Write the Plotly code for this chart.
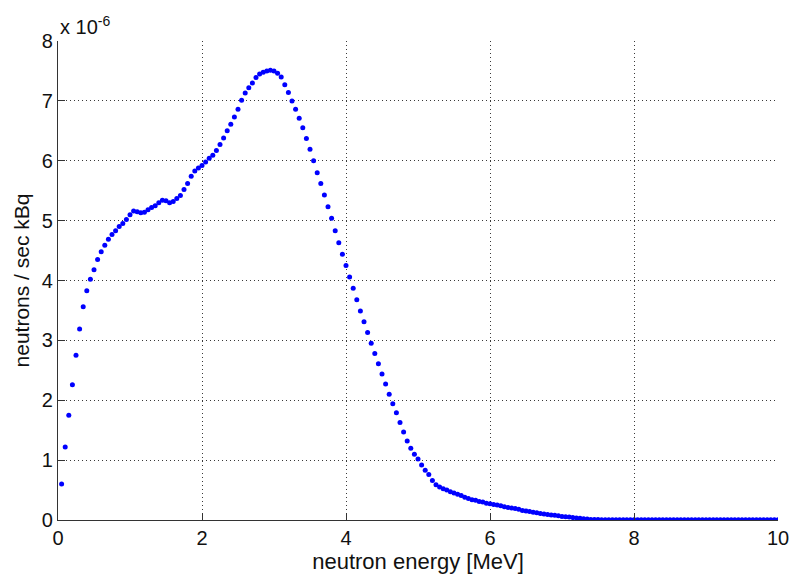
import numpy as np
import plotly.graph_objects as go

# neutron energy grid [MeV] (0.05 MeV bins, 200 points)
energy = np.round(np.arange(1, 201) * 0.05, 2)

# neutrons / sec kBq, in units of 1e-6
rate = [
    0.60, 1.22, 1.75, 2.26, 2.75, 3.19, 3.56, 3.83, 4.02, 4.18,   # 0.05-0.50
    4.35, 4.48, 4.59, 4.69, 4.77, 4.83, 4.90, 4.95, 5.02, 5.10,   # 0.55-1.00
    5.16, 5.15, 5.13, 5.14, 5.18, 5.22, 5.25, 5.30, 5.34, 5.33,   # 1.05-1.50
    5.30, 5.32, 5.37, 5.42, 5.52, 5.62, 5.74, 5.83, 5.88, 5.92,   # 1.55-2.00
    5.98, 6.04, 6.09, 6.17, 6.27, 6.38, 6.50, 6.61, 6.73, 6.86,   # 2.05-2.50
    7.01, 7.13, 7.22, 7.30, 7.39, 7.45, 7.48, 7.50, 7.51, 7.50,   # 2.55-3.00
    7.46, 7.40, 7.27, 7.14, 7.00, 6.86, 6.71, 6.55, 6.37, 6.19,   # 3.05-3.50
    6.00, 5.80, 5.62, 5.43, 5.23, 5.04, 4.83, 4.63, 4.44, 4.25,   # 3.55-4.00
    4.06, 3.87, 3.68, 3.49, 3.31, 3.13, 2.95, 2.78, 2.61, 2.44,   # 4.05-4.50
    2.27, 2.10, 1.94, 1.79, 1.63, 1.47, 1.32, 1.20, 1.10, 1.02,   # 4.55-5.00
    0.92, 0.83, 0.76, 0.66, 0.59, 0.55, 0.52, 0.50, 0.47, 0.45,   # 5.05-5.50
    0.43, 0.41, 0.38, 0.36, 0.34, 0.33, 0.31, 0.30, 0.28, 0.27,   # 5.55-6.00
    0.26, 0.25, 0.24, 0.22, 0.21, 0.20, 0.19, 0.18, 0.16, 0.15,   # 6.05-6.50
    0.14, 0.13, 0.12, 0.11, 0.10, 0.09, 0.085, 0.08, 0.07, 0.06,  # 6.55-7.00
    0.055, 0.05, 0.04, 0.035, 0.03, 0.02, 0.015, 0.01, 0.008, 0.007,  # 7.05-7.50
    0.006, 0.006, 0.005, 0.005, 0.005, 0.004, 0.004, 0.004, 0.004, 0.004,
    0.003, 0.003, 0.003, 0.003, 0.003, 0.003, 0.003, 0.003, 0.003, 0.003,
    0.003, 0.003, 0.003, 0.003, 0.003, 0.003, 0.003, 0.003, 0.003, 0.003,
    0.003, 0.003, 0.003, 0.003, 0.003, 0.003, 0.003, 0.003, 0.003, 0.003,
    0.003, 0.003, 0.003, 0.003, 0.003, 0.003, 0.003, 0.003, 0.003, 0.003,
]

x_ticks = [0, 2, 4, 6, 8, 10]
y_ticks = [0, 1, 2, 3, 4, 5, 6, 7, 8]

font_family = "Liberation Sans, Arial, sans-serif"

fig = go.Figure()
fig.add_trace(go.Scatter(
    x=energy, y=rate, mode="markers",
    marker=dict(symbol="circle", size=5, color="#0000FF", line=dict(width=0)),
    showlegend=False,
))

axis_common = dict(
    showgrid=True, gridcolor="#3a3a3a", griddash="1px,3px", gridwidth=1,
    zeroline=False, showline=True, linecolor="#333333", linewidth=1.2,
    ticks="inside", ticklen=7, tickcolor="#333333", mirror=False,
    tickfont=dict(family=font_family, size=20, color="#111111"),
)

fig.update_layout(
    width=801, height=579,
    margin=dict(l=58, r=14, t=41, b=59),
    paper_bgcolor="white", plot_bgcolor="white",
    font=dict(family=font_family, color="#111111"),
    xaxis=dict(range=[0, 10], tickvals=x_ticks,
               title=dict(text="neutron energy [MeV]", font=dict(size=22), standoff=2),
               **axis_common),
    yaxis=dict(range=[0, 8], tickvals=y_ticks,
               title=dict(text="neutrons / sec kBq", font=dict(size=21), standoff=6),
               **axis_common),
    annotations=[dict(
        text="x 10<sup>-6</sup>", xref="paper", yref="paper", x=0.0, y=1.0,
        xanchor="left", yanchor="bottom", showarrow=False, yshift=1,
        font=dict(family=font_family, size=20, color="#111111"),
    )],
)

fig.write_html("out.html")
